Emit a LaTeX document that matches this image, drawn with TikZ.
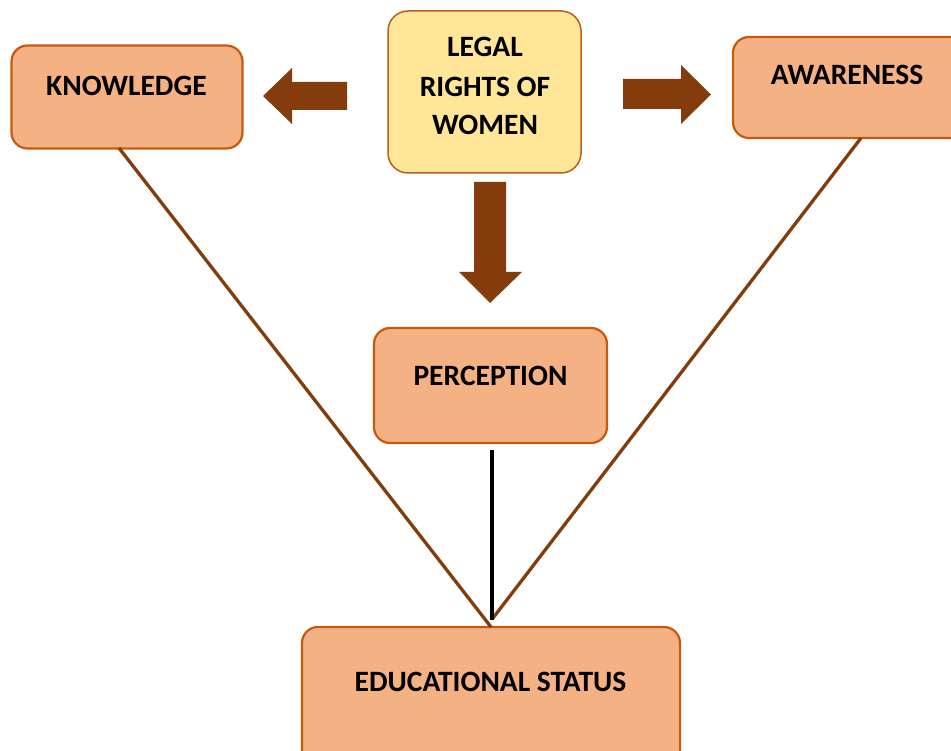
\documentclass[tikz,border=0pt]{standalone}
\usepackage{fontspec}
\setmainfont{Carlito}
\definecolor{boxfill}{HTML}{F4B183}
\definecolor{boxline}{HTML}{C55A11}
\definecolor{legalfill}{HTML}{FFE699}
\definecolor{legalline}{HTML}{B8601E}
\definecolor{brownarrow}{HTML}{843C0C}
\tikzset{
  box/.style={draw=boxline, fill=boxfill, line width=2.2pt, rounded corners=16pt, inner sep=0pt},
  legalbox/.style={draw=legalline, fill=legalfill, line width=1.5pt, rounded corners=20pt, inner sep=0pt},
  lbl/.style={anchor=base, inner sep=0pt, font=\fontsize{29.5}{39}\selectfont\bfseries},
  bigarrow/.style={fill=brownarrow, draw=none},
  link/.style={draw=brownarrow, line width=3.3pt},
  blink/.style={draw=black, line width=3.6pt}
}
\begin{document}
\begin{tikzpicture}[x=1pt, y=-1pt]
\clip (0,0) rectangle (951,751);
\fill[white] (0,0) rectangle (951,751);
% boxes
\node[box, minimum width=231pt, minimum height=103pt] (k) at (127,97) {};
\node[legalbox, minimum width=193pt, minimum height=162pt] (lg) at (484.5,92) {};
\node[box, minimum width=240pt, minimum height=101pt] (aw) at (853,87.5) {};
\node[box, minimum width=233pt, minimum height=115pt] (pc) at (490.5,385.5) {};
\node[box, minimum width=378pt, minimum height=160pt] (ed) at (491,707) {};
% labels
\node[lbl] (kt) at (126.5,96) {KNOWLEDGE};
\node[lbl] (lt1) at (485,57) {LEGAL};
\node[lbl] (lt2) at (485,96.5) {RIGHTS OF};
\node[lbl] (lt3) at (485,135) {WOMEN};
\node[lbl] (at) at (847,85) {AWARENESS};
\node[lbl] (pt) at (490.5,386) {PERCEPTION};
\node[lbl] (et) at (490.5,691) {EDUCATIONAL STATUS};
% block arrows
\fill[bigarrow] (347,82) -- (292,82) -- (292,68) -- (263,96) -- (292,124) -- (292,110) -- (347,110) -- cycle;
\fill[bigarrow] (623,79) -- (681,79) -- (681,65) -- (711,94.5) -- (681,124) -- (681,109) -- (623,109) -- cycle;
\fill[bigarrow] (474,182) -- (506,182) -- (506,272) -- (522,272) -- (490,303) -- (459,272) -- (474,272) -- cycle;
% connectors
\coordinate (kb) at (119,148);
\coordinate (ab) at (861,138);
\coordinate (pb) at (492,450);
\coordinate (e1) at (491,627);
\coordinate (e2) at (493,618);
\coordinate (e3) at (492,620);
\draw[link] (kb) -- (e1);
\draw[link] (ab) -- (e2);
\draw[blink] (pb) -- (e3);
\end{tikzpicture}
\end{document}
